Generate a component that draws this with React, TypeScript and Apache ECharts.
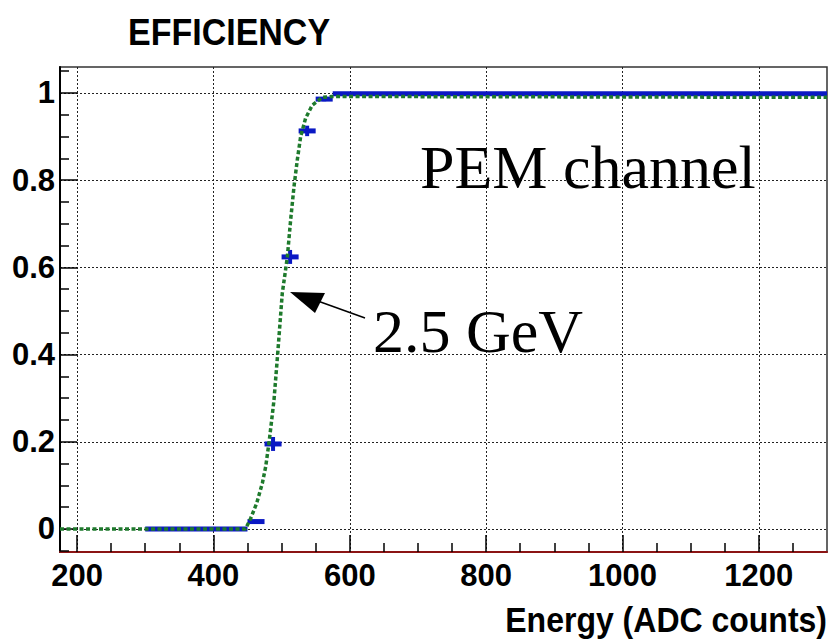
import React, { useEffect, useRef } from "react";
import * as echarts from "echarts";

// Axis tick values
const xMajorTicks = [200, 400, 600, 800, 1000, 1200];
const xMinorTicks = [250, 300, 350, 450, 500, 550, 650, 700, 750, 850, 900, 950, 1050, 1100, 1150, 1250];
const yMajorTicks = [0, 0.2, 0.4, 0.6, 0.8, 1];
const yMinorTicks = [-0.05, 0.05, 0.1, 0.15, 0.25, 0.3, 0.35, 0.45, 0.5, 0.55, 0.65, 0.7, 0.75, 0.85, 0.9, 0.95, 1.05];

// Measured efficiency histogram (bin low edge, bin high edge, value, error)
const binLow = [300, 450, 475, 500, 525, 550, 575];
const binHigh = [450, 475, 500, 525, 550, 575, 1300];
const efficiency = [0, 0.017, 0.195, 0.624, 0.913, 0.986, 0.998];
const efficiencyErr = [0, 0.004, 0.016, 0.016, 0.012, 0.005, 0];

// Fitted turn-on curve
const fitX = [175, 447, 454.6, 463.5, 471.8, 476.7, 481.5, 485.5, 488.9, 494.7, 501, 508.4, 513.3, 518.2, 523, 528, 535.2, 545, 559.7, 574, 1300];
const fitY = [0, 0, 0.024, 0.059, 0.105, 0.143, 0.197, 0.25, 0.296, 0.41, 0.54, 0.623, 0.709, 0.785, 0.846, 0.9, 0.942, 0.972, 0.99, 0.992, 0.99];

const X_MIN = 175;
const X_MAX = 1300;
const Y_MIN = -0.0528;
const Y_MAX = 1.0596;

const BLUE = "#0a18c4";
const GREEN = "#1e7a2c";
const SANS = "Liberation Sans, Arial, sans-serif";
const SERIF = "Liberation Serif, Times New Roman, serif";

export default function App() {
  const ref = useRef<HTMLDivElement>(null);

  useEffect(() => {
    if (!ref.current) return;
    const chart = echarts.init(ref.current, null, { renderer: "svg" });

    const histData = binLow.map((lo, i) => [lo, binHigh[i], efficiency[i], efficiencyErr[i]]);
    const fitData = fitX.map((x, i) => [x, fitY[i]]);

    const option: any = {
      animation: false,
      backgroundColor: "#ffffff",
      grid: {
        left: 60,
        right: 2,
        top: 67,
        bottom: 87,
        show: true,
        borderColor: "#333",
        borderWidth: 1.5,
        backgroundColor: "transparent",
        outerBoundsMode: "none",
        containLabel: false,
      },
      xAxis: [
        {
          type: "value",
          min: X_MIN,
          max: X_MAX,
          position: "bottom",
          axisLine: { onZero: false, lineStyle: { color: "#8b1414", width: 2 } },
          axisTick: {
            inside: true,
            length: 17,
            customValues: xMajorTicks,
            lineStyle: { color: "#000", width: 1.5 },
          },
          axisLabel: {
            customValues: xMajorTicks,
            fontSize: 31,
            fontWeight: "bold",
            fontFamily: SANS,
            color: "#000",
            margin: 8,
            formatter: (v: number) => String(v),
          },
          splitLine: { show: true, lineStyle: { type: [2, 2], color: "#222", width: 1 } },
        },
        {
          type: "value",
          min: X_MIN,
          max: X_MAX,
          position: "bottom",
          axisLine: { show: false, onZero: false },
          axisTick: {
            inside: true,
            length: 9,
            customValues: xMinorTicks,
            lineStyle: { color: "#000", width: 1.5 },
          },
          axisLabel: { show: false },
          splitLine: { show: false },
        },
      ],
      yAxis: [
        {
          type: "value",
          min: Y_MIN,
          max: Y_MAX,
          position: "left",
          axisLine: { show: true, onZero: false, lineStyle: { color: "#000", width: 2 } },
          axisTick: {
            inside: true,
            length: 17,
            customValues: yMajorTicks,
            lineStyle: { color: "#000", width: 1.5 },
          },
          axisLabel: {
            customValues: yMajorTicks,
            fontSize: 31,
            fontWeight: "bold",
            fontFamily: SANS,
            color: "#000",
            margin: 5,
            formatter: (v: number) => String(v),
          },
          splitLine: { show: true, lineStyle: { type: [2, 2], color: "#222", width: 1 } },
        },
        {
          type: "value",
          min: Y_MIN,
          max: Y_MAX,
          position: "left",
          axisLine: { show: false, onZero: false },
          axisTick: {
            inside: true,
            length: 9,
            customValues: yMinorTicks,
            lineStyle: { color: "#000", width: 1.5 },
          },
          axisLabel: { show: false },
          splitLine: { show: false },
        },
      ],
      series: [
        {
          type: "custom",
          name: "efficiency",
          xAxisIndex: 0,
          yAxisIndex: 0,
          z: 3,
          data: histData,
          encode: { x: [0, 1], y: 2 },
          renderItem: (_params: any, api: any) => {
            const lo = api.value(0);
            const hi = api.value(1);
            const v = api.value(2);
            const e = api.value(3);
            const a = api.coord([lo, v]);
            const b = api.coord([hi, v]);
            const mid = (lo + hi) / 2;
            const t = api.coord([mid, v + e]);
            const d = api.coord([mid, v - e]);
            const children: any[] = [
              {
                type: "line",
                shape: { x1: a[0], y1: a[1], x2: b[0], y2: b[1] },
                style: { stroke: BLUE, lineWidth: 5 },
              },
            ];
            if (e > 0) {
              children.push({
                type: "line",
                shape: { x1: t[0], y1: t[1], x2: d[0], y2: d[1] },
                style: { stroke: BLUE, lineWidth: 4 },
              });
            }
            return { type: "group", children };
          },
        },
        {
          type: "line",
          name: "fit",
          xAxisIndex: 0,
          yAxisIndex: 0,
          z: 4,
          data: fitData,
          showSymbol: false,
          symbol: "none",
          lineStyle: { color: GREEN, width: 3.5, type: [4, 2.5] },
        },
      ],
      graphic: [
        {
          type: "text",
          x: 128,
          y: 32,
          scaleY: 1.08,
          style: {
            text: "EFFICIENCY",
            font: `bold 34px ${SANS}`,
            fill: "#000",
            textAlign: "left",
            textVerticalAlign: "middle",
          },
        },
        {
          type: "text",
          x: 827,
          y: 620.5,
          scaleY: 1.08,
          style: {
            text: "Energy (ADC counts)",
            font: `bold 32px ${SANS}`,
            fill: "#000",
            textAlign: "right",
            textVerticalAlign: "middle",
          },
        },
        {
          type: "text",
          x: 420,
          y: 167,
          z: 10,
          style: {
            text: "PEM channel",
            font: `62px ${SERIF}`,
            fill: "#000",
            textAlign: "left",
            textVerticalAlign: "middle",
          },
        },
        {
          type: "text",
          x: 373,
          y: 331,
          z: 10,
          style: {
            text: "2.5 GeV",
            font: `62px ${SERIF}`,
            fill: "#000",
            textAlign: "left",
            textVerticalAlign: "middle",
          },
        },
        {
          type: "line",
          z: 10,
          shape: { x1: 365, y1: 318, x2: 315, y2: 300 },
          style: { stroke: "#000", lineWidth: 1.5 },
        },
        {
          type: "polygon",
          z: 10,
          shape: { points: [[290, 292], [325, 293], [315, 313]] },
          style: { fill: "#000" },
        },
      ],
    };

    chart.setOption(option);
    return () => chart.dispose();
  }, []);

  return (
    <div
      ref={ref}
      style={{ position: "fixed", left: 0, top: 0, width: 829, height: 639, background: "#fff" }}
    />
  );
}
